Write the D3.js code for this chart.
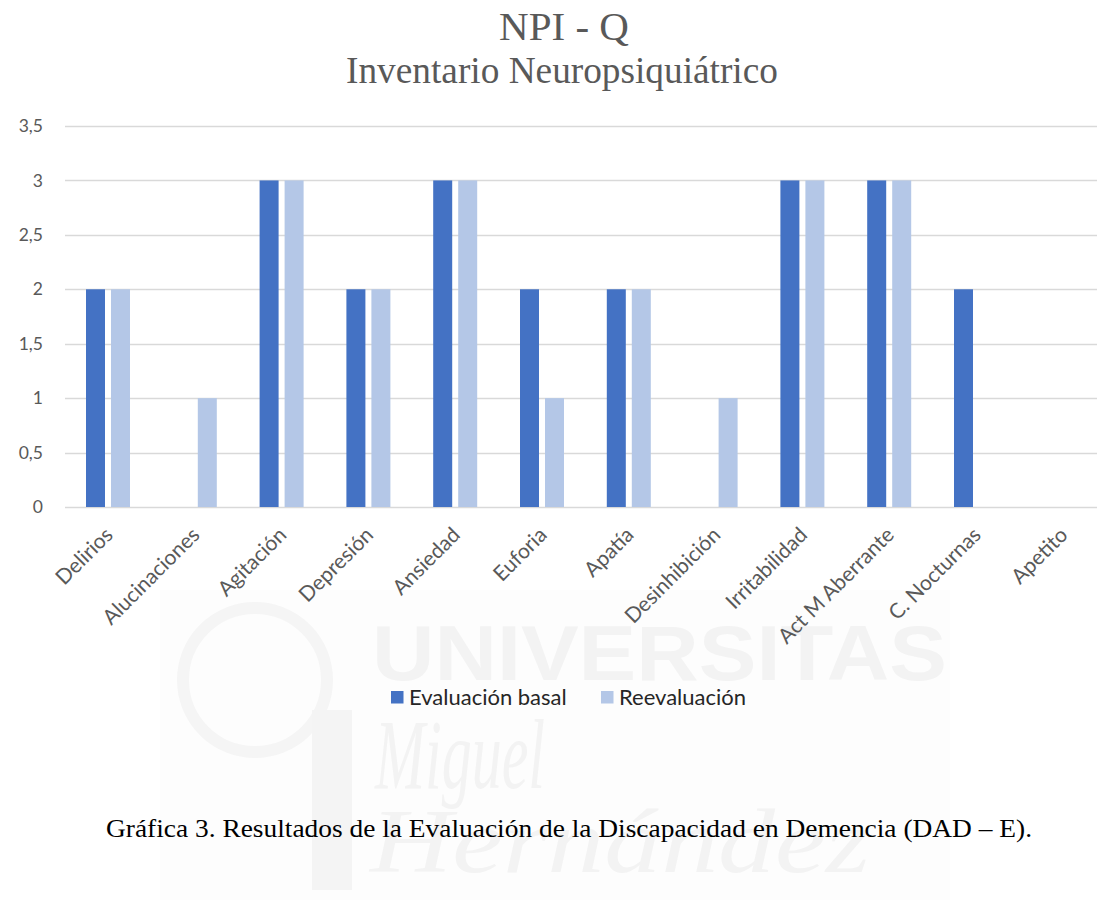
<!DOCTYPE html>
<html>
<head>
<meta charset="utf-8">
<script src="https://cdn.jsdelivr.net/npm/d3@7"></script>
<style>
  html, body { margin: 0; padding: 0; background: #fff; }
  svg { display: block; }
</style>
</head>
<body>
<svg id="chart" width="1097" height="909"></svg>
<script>
const categories = ["Delirios", "Alucinaciones", "Agitación", "Depresión", "Ansiedad", "Euforia", "Apatía", "Desinhibición", "Irritabilidad", "Act M Aberrante", "C. Nocturnas", "Apetito"];
const seriesNames = ["Evaluación basal", "Reevaluación"];
const basal = [2, 0, 3, 2, 3, 2, 2, 0, 3, 3, 2, 0];
const reevaluacion = [2, 1, 3, 2, 3, 1, 2, 1, 3, 3, 0, 0];
const yTicks = [0, 0.5, 1, 1.5, 2, 2.5, 3, 3.5];
const colors = ["#4472C4", "#B4C7E7"];
const titleText = "NPI - Q";
const subtitleText = "Inventario Neuropsiquiátrico";
const captionText = "Gráfica 3. Resultados de la Evaluación de la Discapacidad en Demencia (DAD – E).";

const svg = d3.select("#chart");
const sans = "Lato, 'Open Sans', sans-serif";
const serif = "'Liberation Serif', 'Times New Roman', serif";

// faint watermark (background image in the reference)
const wm = svg.append("g").attr("fill", "#f3f3f3");
wm.append("rect").attr("x", 160).attr("y", 590).attr("width", 790).attr("height", 310).attr("fill", "#fdfdfd");
wm.append("circle").attr("cx", 255).attr("cy", 680).attr("r", 72).attr("fill", "none").attr("stroke", "#f5f5f5").attr("stroke-width", 12);
wm.append("rect").attr("x", 312).attr("y", 710).attr("width", 40).attr("height", 180).attr("fill", "#f4f4f4");
wm.append("text").attr("x", 372).attr("y", 680).attr("font-family", "'Liberation Sans', sans-serif")
  .attr("font-weight", "bold").attr("font-size", 78).attr("textLength", 575).attr("lengthAdjust", "spacingAndGlyphs").text("UNIVERSITAS");
wm.append("text").attr("x", 375).attr("y", 788).attr("font-family", serif)
  .attr("font-style", "italic").attr("font-size", 100).attr("textLength", 170).attr("lengthAdjust", "spacingAndGlyphs").text("Miguel");
wm.append("text").attr("x", 370).attr("y", 872).attr("font-family", serif)
  .attr("font-style", "italic").attr("font-size", 90).attr("textLength", 500).attr("lengthAdjust", "spacingAndGlyphs").text("Hernández");

// scales
const x0 = d3.scaleBand().domain(categories).range([64.6, 64.6 + 86.8 * categories.length]).padding(0);
const x1 = d3.scaleBand().domain(seriesNames).range([21.4, 65.4]).paddingInner(0.24).paddingOuter(0);
const y = d3.scaleLinear().domain([0, 3.5]).range([507, 126]);

// gridlines
svg.append("g").selectAll("line").data(yTicks).join("line")
  .attr("x1", 65).attr("x2", 1110)
  .attr("y1", d => Math.round(y(d)) + 0.5).attr("y2", d => Math.round(y(d)) + 0.5)
  .attr("stroke", "#d9d9d9").attr("stroke-width", 1.3);

// y axis labels
const yAxis = d3.axisLeft(y).tickValues(yTicks).tickSize(0).tickPadding(0)
  .tickFormat(d => String(d).replace(".", ","));
const ya = svg.append("g").attr("transform", "translate(43,0)").call(yAxis);
ya.select(".domain").remove();
ya.selectAll("text").attr("font-family", sans).attr("font-size", 17.5).attr("fill", "#595959");

// bars
const data = categories.map((c, i) => ({ c, vals: [basal[i], reevaluacion[i]] }));
const groups = svg.append("g").selectAll("g").data(data).join("g")
  .attr("transform", d => `translate(${x0(d.c)},0)`);
groups.selectAll("rect").data(d => d.vals.map((v, k) => ({ v, k })).filter(e => e.v > 0)).join("rect")
  .attr("x", e => x1(seriesNames[e.k]))
  .attr("width", x1.bandwidth())
  .attr("y", e => y(e.v))
  .attr("height", e => y(0) - y(e.v))
  .attr("fill", e => colors[e.k]);

// x axis labels
const xAxis = d3.axisBottom(x0).tickSize(0).tickPadding(0);
const xa = svg.append("g").call(xAxis);
xa.select(".domain").remove();
xa.selectAll(".tick").attr("transform", d => `translate(${x0(d) + x0.bandwidth() / 2 + 1},531)`);
xa.selectAll(".tick text").attr("font-family", sans).attr("font-size", 21).attr("fill", "#595959")
  .attr("text-anchor", "end").attr("y", 0).attr("dy", "0.35em").attr("transform", "rotate(-45)");

// titles
svg.append("text").attr("x", 564).attr("y", 40).attr("text-anchor", "middle")
  .attr("font-family", serif).attr("font-size", 41).attr("fill", "#595959").text(titleText);
svg.append("text").attr("x", 562).attr("y", 83).attr("text-anchor", "middle")
  .attr("font-family", serif).attr("font-size", 37.3).attr("fill", "#595959").text(subtitleText);

// legend
const legend = svg.append("g");
const legendX = [391, 601];
seriesNames.forEach((s, k) => {
  legend.append("rect").attr("x", legendX[k]).attr("y", 691).attr("width", 12.5).attr("height", 12.5).attr("fill", colors[k]);
  legend.append("text").attr("x", legendX[k] + 18).attr("y", 697.5).attr("dy", "0.35em")
    .attr("font-family", sans).attr("font-size", 22).attr("fill", "#262626").text(s);
});

// caption
svg.append("text").attr("x", 106).attr("y", 837)
  .attr("font-family", serif).attr("font-size", 26).attr("fill", "#000")
  .attr("textLength", 926).attr("lengthAdjust", "spacingAndGlyphs").text(captionText);
</script>
</body>
</html>
